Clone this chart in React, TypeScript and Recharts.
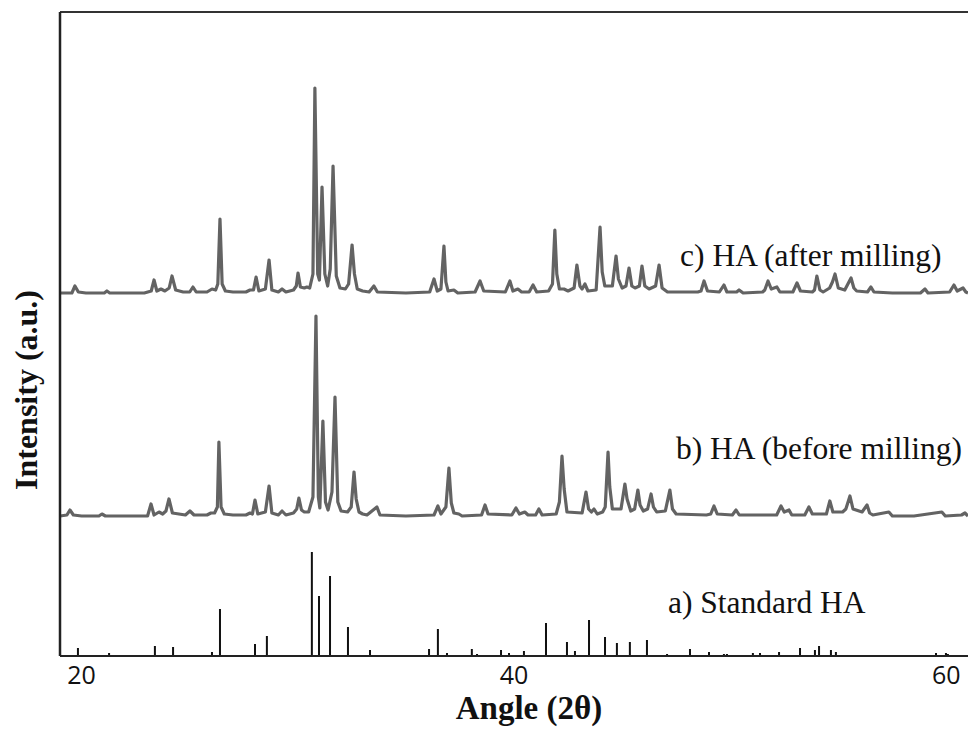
import React from 'react';
import {
  LineChart,
  Line,
  XAxis,
  YAxis,
  ReferenceLine,
  ReferenceDot,
  Label,
} from 'recharts';

// --- Data ---
// angle (2θ) / intensity (a.u., height above each pattern's own baseline)

// a) Standard HA reference sticks
const STD_ANGLES = [
  19.83, 21.27, 22.15, 23.39, 24.23, 26.03, 26.4, 28.02, 28.57, 30.65, 30.98, 31.49,
  32.32, 33.34, 35.28, 36.07, 36.48, 36.9, 37.22, 38.05, 38.29, 39.4, 39.77, 40.46,
  41.25, 41.48, 42.45, 42.82, 43.47, 44.21, 44.76, 45.36, 46.15, 47.08, 48.14, 48.46,
  49.02, 49.71, 49.85, 50.17, 51.05, 51.38, 52.26, 53.23, 53.55, 53.92, 54.11, 54.66,
  54.89, 55.77, 57.25, 57.71, 58.08, 58.45, 58.91, 59.24, 59.52, 59.98, 60.07, 60.49,
];
const STD_HEIGHTS = [
  8, 3, 1, 10, 9, 4, 47, 12, 20, 104, 60, 80,
  29, 6, 1, 7, 27, 3, 1, 7, 2, 6, 3, 5,
  1, 33, 14, 5, 36, 19, 13, 14, 16, 2, 7, 1,
  4, 2, 2, 1, 3, 3, 4, 8, 1, 6, 10, 6,
  4, 1, 1, 1, 1, 1, 1, 1, 3, 3, 2, 1,
];

// b) HA before milling
const BEFORE_PROFILE: [number, number][] = [
  [19.0, 1], [19.32, 2], [19.46, 7], [19.62, 2], [20.0, 1], [20.8, 1], [20.94, 3], [21.1, 1],
  [23.05, 1], [23.21, 13], [23.35, 2], [23.58, 5], [23.75, 3], [23.9, 6], [24.04, 18], [24.2, 4],
  [24.8, 2], [25.01, 6], [25.2, 2], [25.8, 2], [25.98, 4], [26.15, 4], [26.28, 10], [26.35, 75],
  [26.45, 10], [26.6, 3], [27.0, 2], [27.6, 2], [27.79, 4], [27.9, 3], [28.02, 17], [28.15, 3],
  [28.5, 5], [28.67, 31], [28.8, 4], [29.1, 2], [29.27, 6], [29.45, 2], [29.8, 4], [29.95, 8],
  [30.05, 19], [30.17, 7], [30.3, 5], [30.5, 5], [30.7, 20], [30.84, 201], [30.95, 20], [31.02, 9],
  [31.16, 96], [31.28, 15], [31.4, 7], [31.58, 25], [31.72, 120], [31.85, 15], [32.0, 6], [32.3, 5],
  [32.47, 10], [32.6, 45], [32.7, 18], [32.83, 5], [33.0, 3], [33.2, 2], [33.66, 10], [33.8, 2],
  [35.0, 1], [36.3, 2], [36.48, 11], [36.62, 3], [36.85, 10], [36.99, 49], [37.1, 14], [37.22, 4],
  [37.45, 3], [37.6, 1], [38.5, 2], [38.66, 12], [38.8, 3], [39.9, 2], [40.09, 9], [40.25, 3],
  [40.5, 5], [40.65, 2], [41.0, 2], [41.15, 8], [41.3, 2], [41.95, 3], [42.1, 15], [42.22, 61],
  [42.32, 28], [42.45, 5], [43.15, 4], [43.33, 25], [43.45, 8], [43.58, 5], [43.7, 8], [43.85, 3],
  [44.1, 5], [44.22, 10], [44.35, 65], [44.43, 30], [44.55, 8], [44.95, 8], [45.13, 33], [45.23, 18],
  [45.4, 6], [45.58, 8], [45.73, 27], [45.83, 12], [45.98, 6], [46.18, 8], [46.34, 23], [46.45, 10],
  [46.6, 5], [47.0, 6], [47.21, 27], [47.33, 8], [47.5, 3], [48.9, 2], [49.1, 3], [49.25, 11],
  [49.4, 3], [50.1, 2], [50.27, 7], [50.42, 2], [52.15, 2], [52.35, 11], [52.5, 5], [52.72, 7],
  [52.85, 2], [53.45, 2], [53.64, 10], [53.8, 3], [54.45, 3], [54.61, 16], [54.75, 5], [55.2, 5],
  [55.35, 8], [55.54, 21], [55.68, 8], [56.1, 5], [56.33, 12], [56.45, 4], [56.6, 2], [57.34, 5],
  [57.5, 1], [58.5, 1], [59.79, 5], [59.95, 1], [60.7, 2], [60.86, 4], [61.0, 1],
];

// c) HA after milling
const AFTER_PROFILE: [number, number][] = [
  [19.0, 1], [19.55, 1], [19.69, 8], [19.85, 2], [20.2, 1], [21.05, 1], [21.17, 3], [21.3, 1],
  [22.9, 1], [23.22, 3], [23.35, 14], [23.48, 3], [23.67, 5], [23.85, 3], [24.05, 6], [24.18, 18],
  [24.35, 4], [24.7, 2], [25.0, 2], [25.15, 7], [25.3, 2], [25.8, 2], [26.03, 5], [26.2, 4],
  [26.3, 10], [26.4, 75], [26.5, 10], [26.65, 3], [27.0, 2], [27.6, 2], [27.79, 4], [27.95, 4],
  [28.07, 17], [28.2, 3], [28.5, 5], [28.67, 34], [28.8, 4], [29.1, 2], [29.27, 5], [29.45, 2],
  [29.8, 4], [29.93, 8], [30.01, 21], [30.12, 7], [30.3, 6], [30.42, 7], [30.55, 6], [30.7, 20],
  [30.79, 206], [30.92, 20], [31.0, 14], [31.12, 107], [31.25, 20], [31.38, 8], [31.5, 25], [31.63, 128],
  [31.78, 18], [31.95, 6], [32.2, 5], [32.35, 10], [32.51, 49], [32.62, 20], [32.75, 5], [33.0, 3],
  [33.3, 2], [33.52, 8], [33.68, 2], [35.0, 1], [36.1, 2], [36.3, 15], [36.45, 3], [36.62, 5],
  [36.76, 48], [36.85, 12], [36.95, 3], [37.22, 4], [37.4, 1], [38.2, 2], [38.43, 13], [38.6, 3],
  [39.6, 2], [39.81, 13], [39.95, 3], [40.18, 5], [40.35, 2], [40.7, 2], [40.88, 9], [41.05, 2],
  [41.6, 3], [41.78, 10], [41.89, 64], [41.98, 20], [42.1, 5], [42.31, 5], [42.5, 3], [42.78, 6],
  [42.91, 29], [43.05, 8], [43.15, 5], [43.28, 10], [43.42, 3], [43.8, 4], [43.98, 67], [44.08, 22],
  [44.2, 8], [44.55, 8], [44.72, 38], [44.83, 15], [45.0, 6], [45.18, 8], [45.32, 26], [45.45, 8],
  [45.6, 6], [45.8, 8], [45.92, 28], [46.05, 8], [46.25, 5], [46.55, 8], [46.71, 29], [46.85, 6],
  [47.1, 2], [48.5, 2], [48.65, 3], [48.79, 13], [48.95, 3], [49.5, 2], [49.71, 9], [49.85, 2],
  [50.3, 2], [50.41, 4], [50.6, 1], [51.5, 2], [51.6, 4], [51.75, 13], [51.9, 5], [52.16, 7],
  [52.3, 2], [52.9, 2], [53.09, 11], [53.25, 3], [53.8, 2], [53.9, 4], [54.01, 18], [54.15, 4],
  [54.3, 2], [54.6, 6], [54.73, 12], [54.85, 20], [55.0, 6], [55.3, 4], [55.59, 16], [55.72, 6],
  [55.85, 3], [56.35, 2], [56.51, 7], [56.65, 2], [57.5, 1], [58.8, 1], [59.01, 5], [59.15, 1],
  [60.15, 2], [60.35, 9], [60.5, 3], [60.77, 6], [60.9, 2], [61.0, 1],
];

const X_TICKS = [20, 40, 60];
const X_DOMAIN: [number, number] = [19, 61];
const Y_MAX = 644;

// vertical stacking offsets of the patterns
const OFFSET_BEFORE = 139;
const OFFSET_AFTER = 362;

const LABELS = [
  { text: 'c) HA (after milling)', x: 47.68, y: 390 },
  { text: 'b) HA (before milling)', x: 47.49, y: 197 },
  { text: 'a) Standard HA', x: 47.12, y: 43 },
];

// --- Chart ---

const SERIF = '"Liberation Serif", "Times New Roman", serif';
const PATTERN_GRAY = '#636363';

const stickData = STD_ANGLES.flatMap((a, i) => [
  { x: a, y: 0 },
  { x: a, y: STD_HEIGHTS[i] },
  { x: a, y: 0 },
]);
const beforeData = BEFORE_PROFILE.map(([x, y]) => ({ x, y: y + OFFSET_BEFORE }));
const afterData = AFTER_PROFILE.map(([x, y]) => ({ x, y: y + OFFSET_AFTER }));

const PatternLabel = ({ viewBox, value }: any) => (
  <text
    x={viewBox.x}
    y={viewBox.y}
    fontFamily={SERIF}
    fontSize={31.5}
    fill="#111"
    textAnchor="start"
  >
    {value}
  </text>
);

const YTitle = ({ viewBox }: any) => {
  const cx = viewBox.x + 26;
  const cy = viewBox.y + viewBox.height / 2 + 56;
  return (
    <text
      x={cx}
      y={cy}
      transform={`rotate(-90 ${cx} ${cy})`}
      textAnchor="middle"
      dominantBaseline="central"
      fontFamily={SERIF}
      fontWeight="bold"
      fontSize={32}
      fill="#111"
    >
      Intensity (a.u.)
    </text>
  );
};

const XTitle = ({ viewBox }: any) => (
  <text
    x={viewBox.x + viewBox.width / 2 + 15}
    y={viewBox.y + 63}
    textAnchor="middle"
    fontFamily={SERIF}
    fontWeight="bold"
    fontSize={33}
    fill="#111"
  >
    Angle (2θ)
  </text>
);

export default function App() {
  return (
    <div style={{ position: 'absolute', left: 0, top: 0, width: 968, height: 731, background: '#fff' }}>
      <LineChart width={968} height={731} margin={{ top: 12, right: 0, bottom: 0, left: 0 }}>
        <XAxis
          type="number"
          dataKey="x"
          domain={X_DOMAIN}
          ticks={X_TICKS}
          allowDataOverflow
          tickLine={false}
          tickMargin={4}
          height={75}
          axisLine={{ stroke: '#222', strokeWidth: 2 }}
          tick={{ fontFamily: '"Open Sans", sans-serif', fontSize: 25, fill: '#111' }}
        >
          <Label content={<XTitle />} />
        </XAxis>
        <YAxis
          type="number"
          dataKey="y"
          domain={[0, Y_MAX]}
          allowDataOverflow
          tick={false}
          tickLine={false}
          width={60}
          axisLine={{ stroke: '#222', strokeWidth: 2.5 }}
        >
          <Label content={<YTitle />} />
        </YAxis>
        <ReferenceLine y={Y_MAX} stroke="#333" strokeWidth={2} />

        <Line
          data={stickData}
          dataKey="y"
          type="linear"
          stroke="#111"
          strokeWidth={2}
          strokeLinejoin="bevel"
          dot={false}
          activeDot={false}
          isAnimationActive={false}
        />
        <Line
          data={beforeData}
          dataKey="y"
          type="linear"
          stroke={PATTERN_GRAY}
          strokeWidth={3.2}
          strokeLinejoin="round"
          dot={false}
          activeDot={false}
          isAnimationActive={false}
        />
        <Line
          data={afterData}
          dataKey="y"
          type="linear"
          stroke={PATTERN_GRAY}
          strokeWidth={3.2}
          strokeLinejoin="round"
          dot={false}
          activeDot={false}
          isAnimationActive={false}
        />

        {LABELS.map((l) => (
          <ReferenceDot
            key={l.text}
            x={l.x}
            y={l.y}
            r={0}
            fill="none"
            stroke="none"
            label={<PatternLabel value={l.text} />}
          />
        ))}
      </LineChart>
    </div>
  );
}
